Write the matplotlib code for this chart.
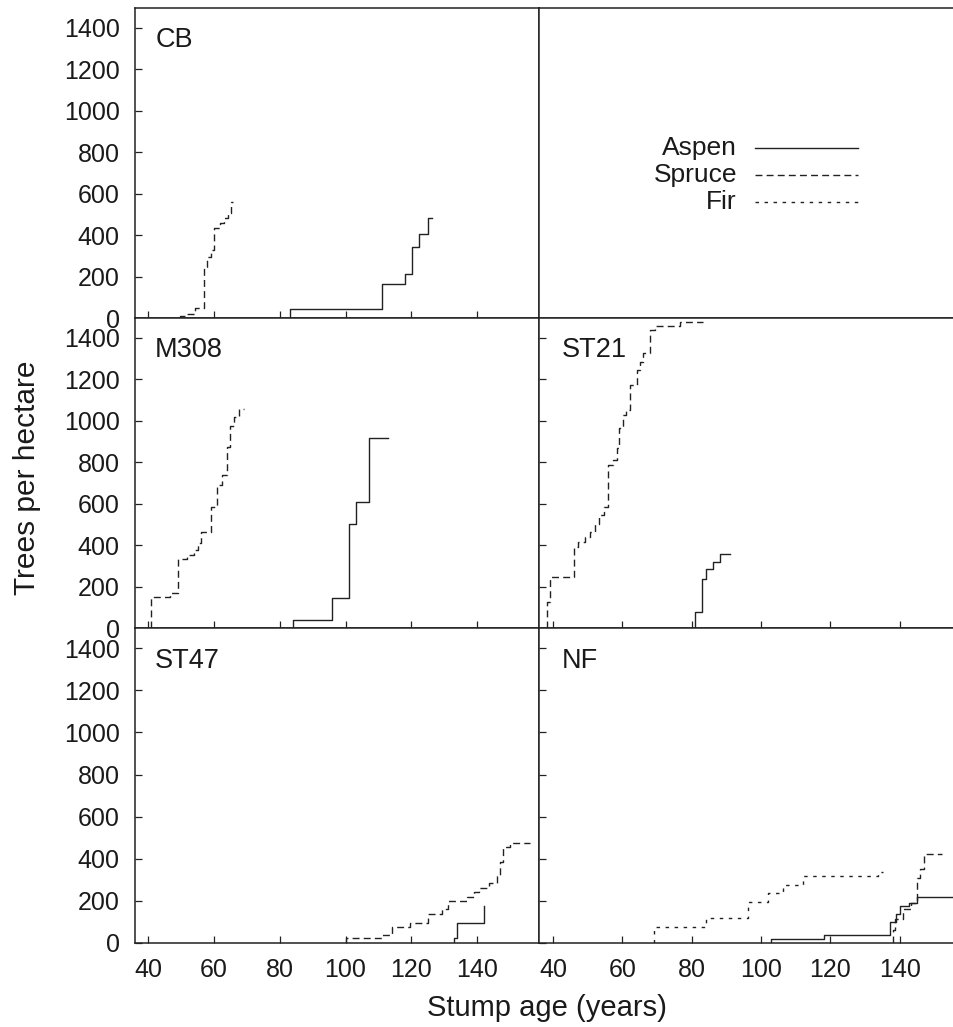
import matplotlib
matplotlib.use('Agg')
import matplotlib.pyplot as plt

plt.rcParams['font.family'] = ['Liberation Sans', 'DejaVu Sans']

# cumulative trees per hectare by stump age (last pair = end of last step)
cb_spruce_age = [49.8, 51.5, 54.3, 57.0, 58.0, 59.1, 60.1, 61.7, 63.1, 64.4, 65.1, 65.9]
cb_spruce_n = [10, 20, 47, 245, 294, 328, 436, 460, 481, 505, 562, 562]
cb_aspen_age = [83.2, 111.0, 118.1, 120.1, 122.2, 125.0, 126.2]
cb_aspen_n = [42, 163, 212, 344, 404, 481, 481]

m308_spruce_age = [40.9, 46.7, 49.2, 51.7, 54.0, 55.3, 56.1, 59.1, 61.0, 62.4, 63.9, 64.9, 66.2, 67.7, 69.0]
m308_spruce_n = [149, 168, 335, 352, 375, 408, 465, 584, 689, 738, 875, 975, 1017, 1056, 1056]
m308_aspen_age = [83.9, 96.0, 100.9, 103.1, 107.0, 113.0]
m308_aspen_n = [40, 144, 504, 607, 918, 918]

st21_spruce_age = [38.2, 39.1, 46.1, 47.2, 49.2, 50.7, 52.1, 53.4, 54.7, 56.0, 57.4, 58.6,
                   59.1, 60.1, 61.2, 62.2, 64.3, 65.1, 66.0, 68.0, 69.4, 76.6, 83.2]
st21_spruce_n = [125, 246, 391, 415, 440, 463, 504, 544, 584, 786, 810, 867,
                 964, 1028, 1052, 1173, 1246, 1286, 1327, 1436, 1458, 1479, 1479]
st21_aspen_age = [81.1, 83.1, 84.1, 86.2, 88.3, 91.0]
st21_aspen_n = [77, 238, 286, 318, 359, 359]

st47_spruce_age = [100.2, 111.0, 114.1, 119.6, 125.2, 129.3, 131.0, 136.9, 139.1, 140.7,
                   143.7, 146.0, 147.0, 148.0, 150.0, 156.1]
st47_spruce_n = [22, 38, 77, 96, 136, 160, 199, 220, 243, 260, 283, 318, 386, 457, 476, 476]
st47_aspen_age = [133.0, 134.0, 142.1, 142.1]
st47_aspen_n = [22, 96, 176, 176]

nf_fir_age = [69.1, 84.0, 96.3, 102.1, 106.2, 112.1, 133.7, 135.0]
nf_fir_n = [77, 117, 196, 239, 275, 318, 338, 338]
nf_spruce_age = [138.0, 138.6, 141.0, 143.1, 144.8, 145.8, 146.9, 152.0]
nf_spruce_n = [62, 112, 160, 191, 307, 350, 421, 421]
nf_aspen_age = [103.0, 118.1, 137.1, 139.0, 140.0, 142.7, 145.0, 156.0]
nf_aspen_n = [19, 38, 101, 138, 176, 191, 220, 220]

species = ['Aspen', 'Spruce', 'Fir']
yticks = [0, 200, 400, 600, 800, 1000, 1200, 1400]
xticks = [40, 60, 80, 100, 120, 140]

ink = '#222222'
styles = {'Aspen': '-', 'Spruce': (0, (5, 3)), 'Fir': (0, (2.5, 4))}

W, H = 954, 1027
fig = plt.figure(figsize=(W / 100, H / 100), dpi=100)


def make_ax(x0, x1, y0, y1):
    return fig.add_axes([x0 / W, 1 - y1 / H, (x1 - x0) / W, (y1 - y0) / H])


def step(ax, ages, n, sp):
    x = [ages[0]] + ages
    y = [0] + n
    ax.plot(x, y, drawstyle='steps-post', color=ink, lw=1.0, ls=styles[sp])


rows = [(8, 318), (318, 628), (628, 943)]
cols = [(135, 539, (36.0, 158.8)), (539, 954, (36.0, 155.6))]

panels = [
    ('CB', [('Aspen', cb_aspen_age, cb_aspen_n), ('Spruce', cb_spruce_age, cb_spruce_n)]),
    (None, []),
    ('M308', [('Aspen', m308_aspen_age, m308_aspen_n), ('Spruce', m308_spruce_age, m308_spruce_n)]),
    ('ST21', [('Aspen', st21_aspen_age, st21_aspen_n), ('Spruce', st21_spruce_age, st21_spruce_n)]),
    ('ST47', [('Aspen', st47_aspen_age, st47_aspen_n), ('Spruce', st47_spruce_age, st47_spruce_n)]),
    ('NF', [('Aspen', nf_aspen_age, nf_aspen_n), ('Spruce', nf_spruce_age, nf_spruce_n),
            ('Fir', nf_fir_age, nf_fir_n)]),
]

for i, (name, series) in enumerate(panels):
    r, c = divmod(i, 2)
    y0, y1 = rows[r]
    x0, x1, xl = cols[c]
    ax = make_ax(x0, x1, y0, y1)
    ax.set_xlim(*xl)
    ax.set_ylim(0, 1496)
    for sp in ax.spines.values():
        sp.set_color(ink)
        sp.set_linewidth(1.1)
    ax.set_xticks(xticks)
    ax.set_yticks(yticks)
    ax.tick_params(direction='in', length=5, width=0.9, color=ink,
                   labelsize=18, labelcolor='#1a1a1a', pad=11)
    ax.tick_params(labelleft=(c == 0), labelbottom=(r == 2))
    if name is None:
        ax.tick_params(left=False, bottom=False)
        # legend drawn by hand: label right-aligned, line sample to the right
        for k, sp in enumerate(species):
            yy = 0.548 - k * 0.087
            ax.text(0.477, yy, sp, transform=ax.transAxes, ha='right', va='center',
                    fontsize=19, color='#1a1a1a')
            ax.plot([0.52, 0.769], [yy, yy], transform=ax.transAxes, color=ink,
                    lw=1.0, ls=styles[sp])
        continue
    for sp, ages, n in series:
        step(ax, ages, n, sp)
    ax.text(0.05 if c == 0 else 0.055, 0.874, name, transform=ax.transAxes,
            ha='left', va='baseline', fontsize=19.5, color='#1a1a1a')

fig.text(27 / W, 1 - 478 / H, 'Trees per hectare', rotation=90, ha='center', va='center',
         fontsize=21.5, color='#1a1a1a')
fig.text(547 / W, 1 - 1008 / H, 'Stump age (years)', ha='center', va='center',
         fontsize=21, color='#1a1a1a')

fig.savefig('out.png', dpi=100)
